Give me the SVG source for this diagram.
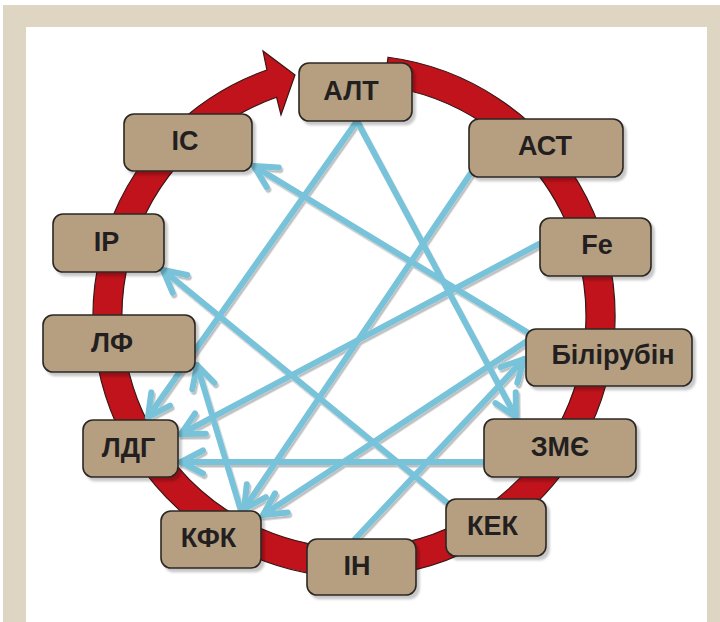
<svg xmlns="http://www.w3.org/2000/svg" width="720" height="622" viewBox="0 0 720 622">
<defs>
<style>
.box{fill:#b59f80;stroke:#2b2724;stroke-width:1.6}
.lbl{font-family:"Liberation Sans",Arial,sans-serif;font-weight:bold;font-size:27px;fill:#231f20;text-anchor:middle}
.con{fill:none;stroke:#78c3d9;stroke-width:6;stroke-linecap:round;stroke-linejoin:round;marker-end:url(#ah)}
</style>
<marker id="ah" markerUnits="userSpaceOnUse" orient="auto" refX="0" refY="0" markerWidth="40" markerHeight="40" viewBox="-30 -20 40 40" overflow="visible">
<path d="M-22,-11.5 L0,0 L-22,11.5" fill="none" stroke="#78c3d9" stroke-width="6" stroke-linecap="round" stroke-linejoin="round"/>
</marker>
<filter id="shB" x="-10%" y="-10%" width="130%" height="140%">
<feDropShadow dx="3" dy="3.5" stdDeviation="1" flood-color="#000" flood-opacity="0.22"/>
</filter>
<filter id="shL" x="-5%" y="-5%" width="110%" height="110%">
<feDropShadow dx="1.5" dy="2.5" stdDeviation="0.6" flood-color="#000" flood-opacity="0.25"/>
</filter>
</defs>
<rect x="0" y="0" width="720" height="622" fill="#ffffff"/>
<rect x="3" y="5" width="717" height="617" fill="#ded6c3"/>
<rect x="26" y="27" width="681" height="595" fill="#ffffff"/>

<g id="ring">
<path d="M388.06,57.24 A261,261 0 1 1 266.9,70.0 L263,51 L295,75 L281,115 L276.6,97.3 A232,232 0 1 0 384.28,86.0 Z" fill="#c1131c" stroke="#3a1616" stroke-width="1.2" stroke-linejoin="miter"/>
</g>

<g id="connectors" filter="url(#shL)">
<path class="con" d="M357,121 L148,417"/>
<path class="con" d="M357,121 L516,417"/>
<path class="con" d="M473,170 L244,509"/>
<path class="con" d="M539,244 L181,434"/>
<path class="con" d="M527,332 L254,166"/>
<path class="con" d="M527,341 L263,515"/>
<path class="con" d="M484,462 L181,462"/>
<path class="con" d="M450,505 L163,270"/>
<path class="con" d="M355,539 L524,359"/>
<path class="con" d="M241,511 L197,365"/>
</g>

<g id="n-alt"><rect class="box" x="299" y="63" width="113" height="58" rx="10" filter="url(#shB)"/><text class="lbl" x="351" y="100">АЛТ</text></g>
<g id="n-is"><rect class="box" x="124" y="114" width="128" height="57" rx="10" filter="url(#shB)"/><text class="lbl" x="185" y="150">ІС</text></g>
<g id="n-ir"><rect class="box" x="53" y="214" width="111" height="58" rx="10" filter="url(#shB)"/><text class="lbl" x="106.5" y="251">ІР</text></g>
<g id="n-lf"><rect class="box" x="43" y="315" width="152" height="57" rx="10" filter="url(#shB)"/><text class="lbl" x="112" y="351.5">ЛФ</text></g>
<g id="n-ldg"><rect class="box" x="83" y="420" width="95" height="57" rx="10" filter="url(#shB)"/><text class="lbl" x="128.5" y="456.5">ЛДГ</text></g>
<g id="n-kfk"><rect class="box" x="161" y="511" width="100" height="57" rx="10" filter="url(#shB)"/><text class="lbl" x="208.5" y="546.5">КФК</text></g>
<g id="n-in"><rect class="box" x="307" y="539" width="109" height="56" rx="10" filter="url(#shB)"/><text class="lbl" x="357" y="575">ІН</text></g>
<g id="n-kek"><rect class="box" x="446" y="499" width="100" height="57" rx="10" filter="url(#shB)"/><text class="lbl" x="492.5" y="535">КЕК</text></g>
<g id="n-zme"><rect class="box" x="484" y="419" width="152" height="58" rx="10" filter="url(#shB)"/><text class="lbl" x="560" y="455.5">ЗМЄ</text></g>
<g id="n-bil"><rect class="box" x="526" y="329" width="166" height="57" rx="10" filter="url(#shB)"/><text class="lbl" x="613" y="364">Білірубін</text></g>
<g id="n-fe"><rect class="box" x="540" y="218" width="111" height="58" rx="10" filter="url(#shB)"/><text class="lbl" x="597" y="254">Fe</text></g>
<g id="n-ast"><rect class="box" x="469" y="119" width="154" height="58" rx="10" filter="url(#shB)"/><text class="lbl" x="545" y="155">АСТ</text></g>
</svg>
